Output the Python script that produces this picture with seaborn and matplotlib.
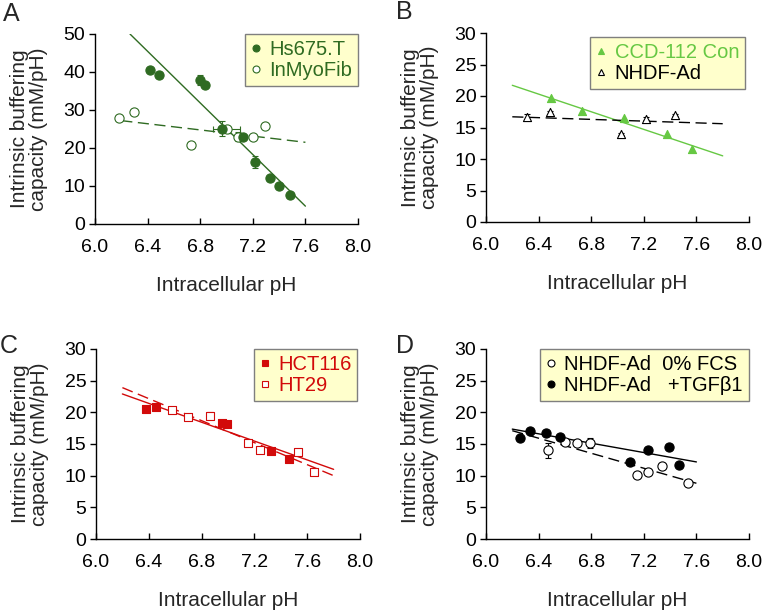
import numpy as np
import pandas as pd
import matplotlib
matplotlib.use("Agg")
import matplotlib.pyplot as plt
import seaborn as sns
from matplotlib.lines import Line2D

sns.set_theme(style="ticks")
plt.rcParams['font.family'] = ['Liberation Sans', 'DejaVu Sans']

# ---------------- data ----------------
# Panel A
hs_x = [6.42, 6.486, 6.80, 6.833, 6.965, 7.124, 7.215, 7.334, 7.40, 7.48]
hs_y = [40.4, 39.2, 37.9, 36.7, 25.1, 22.9, 16.3, 12.0, 10.0, 7.6]
hs_err = [0.5, 0.7, 1.2, 0.8, 2.0, 0.8, 1.5, 0.6, 0.5, 0.4]
myo_x = [6.185, 6.296, 6.73, 7.0, 7.09, 7.2, 7.29]
myo_y = [27.9, 29.4, 20.8, 25.0, 23.0, 22.8, 25.9]
myo_err = [0.3, 0.4, 0.9, 0.4, 1.2, 0.3, 0.6]
myo_xerr = [0, 0, 0, 0.1, 0, 0, 0]
hs_fit_x = [6.266, 7.60]
hs_fit_y = [50.0, 4.7]
myo_fit_x = [6.2, 7.6]
myo_fit_y = [27.2, 21.5]

# Panel B
ccd_x = [6.496, 6.728, 7.047, 7.373, 7.57]
ccd_y = [19.7, 17.6, 16.5, 14.0, 11.6]
nhdf_x = [6.314, 6.49, 7.027, 7.216, 7.434]
nhdf_y = [16.7, 17.4, 14.0, 16.4, 17.0]
nhdf_err = [0.5, 0.2, 0.2, 0.2, 0.2]
ccd_fit_x = [6.2, 7.8]
ccd_fit_y = [21.7, 10.5]
nhdf_fit_x = [6.2, 7.8]
nhdf_fit_y = [16.7, 15.6]

# Panel C
hct_x = [6.381, 6.457, 6.957, 6.995, 7.326, 7.465]
hct_y = [20.5, 20.9, 18.3, 18.1, 13.9, 12.6]
ht_x = [6.578, 6.694, 6.864, 7.152, 7.24, 7.533, 7.652]
ht_y = [20.4, 19.2, 19.5, 15.2, 14.05, 13.7, 10.6]
ht_err = [0.2, 0.2, 0.6, 0.2, 0.3, 0.3, 0.2]
hct_fit_x = [6.2, 7.8]
hct_fit_y = [22.9, 11.0]
ht_fit_x = [6.2, 7.8]
ht_fit_y = [23.9, 10.0]

# Panel D
fcs_x = [6.47, 6.597, 6.69, 6.79, 7.148, 7.231, 7.34, 7.537]
fcs_y = [14.0, 15.3, 15.2, 15.2, 10.05, 10.6, 11.5, 8.9]
fcs_err = [1.2, 0.3, 0.3, 0.8, 0.2, 0.2, 0.2, 0.2]
tgf_x = [6.255, 6.331, 6.453, 6.56, 7.095, 7.231, 7.388, 7.464]
tgf_y = [16.0, 17.1, 16.8, 16.1, 12.2, 14.0, 14.6, 11.7]
tgf_err = [0.3, 0.2, 0.2, 0.2, 0.2, 0.3, 0.4, 0.2]
fcs_fit_x = [6.2, 7.6]
fcs_fit_y = [17.1, 8.8]
tgf_fit_x = [6.2, 7.6]
tgf_fit_y = [17.35, 12.17]

x_ticks = [6.0, 6.4, 6.8, 7.2, 7.6, 8.0]
x_labels = ["6.0", "6.4", "6.8", "7.2", "7.6", "8.0"]

DKGREEN = "#2F6B22"
LTGREEN = "#66C843"
RED = "#D20A0A"
BLACK = "#000000"

fig = plt.figure(figsize=(7.62, 6.11), dpi=100)
W, H = 762, 611
def axes_px(l, r, t, b):
    return fig.add_axes([l / W, 1 - b / H, (r - l) / W, (b - t) / H])

axA = axes_px(95, 358, 34, 224)
axB = axes_px(486, 749, 33, 222)
axC = axes_px(96, 360, 349, 539)
axD = axes_px(486, 749, 349, 539)

def series(ax, x, y, err, color, marker, filled, size=44, xerr=None):
    if err is not None:
        ax.errorbar(x, y, yerr=err, xerr=xerr, fmt='none', ecolor=color, elinewidth=0.8,
                    capsize=2.5, capthick=0.8, zorder=2)
    df = pd.DataFrame({"x": x, "y": y})
    sns.scatterplot(data=df, x="x", y="y", ax=ax, marker=marker, s=size,
                    color=color if filled else "white",
                    edgecolor=color, linewidth=0.8, zorder=3, legend=False)

def fitline(ax, x, y, color, dashed):
    df = pd.DataFrame({"x": x, "y": y})
    sns.lineplot(data=df, x="x", y="y", ax=ax, color=color, linewidth=1.0,
                 linestyle=(0, (8, 4)) if dashed else '-', zorder=1)

def style(ax, ymax, ystep, letter, lx, ly):
    ax.set_xlim(6.0, 8.0)
    ax.set_ylim(0, ymax)
    ax.set_xticks(x_ticks)
    ax.set_xticklabels(x_labels)
    ax.set_yticks(np.arange(0, ymax + 0.1, ystep))
    ax.set_yticklabels([str(int(v)) for v in np.arange(0, ymax + 0.1, ystep)])
    sns.despine(ax=ax)
    for s in ["left", "bottom"]:
        ax.spines[s].set_color("black")
        ax.spines[s].set_linewidth(1.0)
    ax.tick_params(axis='x', direction='in', length=4, width=1, labelsize=14, pad=11, colors="black")
    ax.tick_params(axis='y', direction='out', length=4, width=1, labelsize=14, pad=3, colors="black")
    ax.set_xlabel("Intracellular pH", fontsize=15, labelpad=14)
    ax.set_ylabel("Intrinsic buffering\ncapacity (mM/pH)", fontsize=15, linespacing=1.0, labelpad=11)
    fig.text(lx / W, 1 - ly / H, letter, fontsize=18, ha="left", va="top")
    ax.set_facecolor("white")

def legend(ax, handles, labels, colors, anchor):
    leg = ax.legend(handles, labels, loc="upper right", bbox_to_anchor=anchor,
                    frameon=True, fancybox=False, facecolor="#FFFFCC", edgecolor="#7F7F7F",
                    framealpha=1, fontsize=14.5, handlelength=0.5, handletextpad=0.4,
                    borderpad=0.3, labelspacing=0.1, borderaxespad=0)
    leg.get_frame().set_linewidth(1.0)
    for t, c in zip(leg.get_texts(), colors):
        t.set_color(c)

def h(marker, color, filled, ms=5):
    return Line2D([], [], linestyle='none', marker=marker, markersize=ms,
                  markerfacecolor=color if filled else "white", markeredgecolor=color,
                  markeredgewidth=0.8)

# Panel A
fitline(axA, hs_fit_x, hs_fit_y, DKGREEN, False)
fitline(axA, myo_fit_x, myo_fit_y, DKGREEN, True)
series(axA, myo_x, myo_y, myo_err, DKGREEN, 'o', False, xerr=myo_xerr)
series(axA, hs_x, hs_y, hs_err, DKGREEN, 'o', True)
style(axA, 50, 10, "A", 3, 2)
legend(axA, [h('o', DKGREEN, True), h('o', DKGREEN, False)], ["Hs675.T", "InMyoFib"],
       [DKGREEN, DKGREEN], (1.0, 1.0))

# Panel B
fitline(axB, ccd_fit_x, ccd_fit_y, LTGREEN, False)
fitline(axB, nhdf_fit_x, nhdf_fit_y, BLACK, True)
series(axB, nhdf_x, nhdf_y, nhdf_err, BLACK, '^', False, size=34)
series(axB, ccd_x, ccd_y, None, LTGREEN, '^', True, size=34)
style(axB, 30, 5, "B", 396, 0)
legend(axB, [h('^', LTGREEN, True), h('^', BLACK, False)], ["CCD-112 Con", "NHDF-Ad"],
       [LTGREEN, BLACK], (0.985, 0.98))

# Panel C
fitline(axC, hct_fit_x, hct_fit_y, RED, False)
fitline(axC, ht_fit_x, ht_fit_y, RED, True)
series(axC, ht_x, ht_y, ht_err, RED, 's', False, size=36)
series(axC, hct_x, hct_y, None, RED, 's', True, size=36)
style(axC, 30, 5, "C", 0, 334)
legend(axC, [h('s', RED, True), h('s', RED, False)], ["HCT116", "HT29"],
       [RED, RED], (0.99, 1.0))

# Panel D
fitline(axD, tgf_fit_x, tgf_fit_y, BLACK, False)
fitline(axD, fcs_fit_x, fcs_fit_y, BLACK, True)
series(axD, fcs_x, fcs_y, fcs_err, BLACK, 'o', False)
series(axD, tgf_x, tgf_y, tgf_err, BLACK, 'o', True)
style(axD, 30, 5, "D", 396, 334)
legend(axD, [h('o', BLACK, False), h('o', BLACK, True)],
       ["NHDF-Ad  0% FCS", "NHDF-Ad   +TGF\u03b21"], [BLACK, BLACK], (1.0, 1.0))

fig.savefig("out.png", dpi=100, facecolor="white")
